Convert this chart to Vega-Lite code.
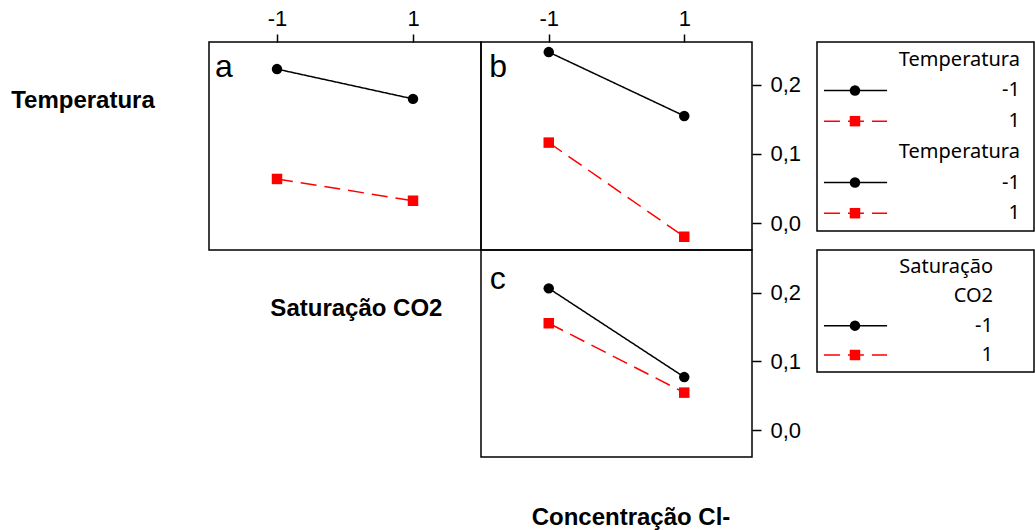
{
  "$schema": "https://vega.github.io/schema/vega-lite/v6.json",
  "padding": 0,
  "background": "white",
  "config": {
    "view": {"stroke": "black", "strokeWidth": 1.5},
    "font": "Liberation Sans",
    "axis": {"labelFont": "Liberation Sans", "labelColor": "black", "labelFontSize": 22, "tickColor": "black", "tickWidth": 1.5, "grid": false, "domain": false, "title": null}
  },
  "datasets": {
    "means": [
      {"panel": "a", "level": "-1", "setting": -1, "mean": 0.2228},
      {"panel": "a", "level": "-1", "setting": 1, "mean": 0.1797},
      {"panel": "a", "level": "1", "setting": -1, "mean": 0.0638},
      {"panel": "a", "level": "1", "setting": 1, "mean": 0.0323},
      {"panel": "b", "level": "-1", "setting": -1, "mean": 0.2474},
      {"panel": "b", "level": "-1", "setting": 1, "mean": 0.155},
      {"panel": "b", "level": "1", "setting": -1, "mean": 0.1164},
      {"panel": "b", "level": "1", "setting": 1, "mean": -0.0198},
      {"panel": "c", "level": "-1", "setting": -1, "mean": 0.2062},
      {"panel": "c", "level": "-1", "setting": 1, "mean": 0.0772},
      {"panel": "c", "level": "1", "setting": -1, "mean": 0.1555},
      {"panel": "c", "level": "1", "setting": 1, "mean": 0.0546}
    ],
    "legend1": [
      {"item": 1, "kind": "title", "text": "Temperatura"},
      {"item": 2, "kind": "entry", "level": "-1", "text": "-1"},
      {"item": 3, "kind": "entry", "level": "1", "text": "1"},
      {"item": 4, "kind": "title", "text": "Temperatura"},
      {"item": 5, "kind": "entry", "level": "-1", "text": "-1"},
      {"item": 6, "kind": "entry", "level": "1", "text": "1"}
    ],
    "legend2": [
      {"item": 1, "kind": "title", "text": "Saturação"},
      {"item": 2, "kind": "title", "text": "CO2"},
      {"item": 3, "kind": "entry", "level": "-1", "text": "-1"},
      {"item": 4, "kind": "entry", "level": "1", "text": "1"}
    ]
  },
  "bounds": "flush",
  "spacing": 0,
  "align": "each",
  "columns": 5,
  "concat": [
    {"width": 209, "height": 42, "view": {"stroke": null}, "data": {"values": []}, "mark": "text", "encoding": {"text": {"field": "t"}}},
    {"width": 272, "height": 42, "view": {"stroke": null}, "data": {"values": []}, "mark": "text", "encoding": {"text": {"field": "t"}}},
    {"width": 271, "height": 42, "view": {"stroke": null}, "data": {"values": []}, "mark": "text", "encoding": {"text": {"field": "t"}}},
    {"width": 65, "height": 42, "view": {"stroke": null}, "data": {"values": []}, "mark": "text", "encoding": {"text": {"field": "t"}}},
    {"width": 217, "height": 42, "view": {"stroke": null}, "data": {"values": []}, "mark": "text", "encoding": {"text": {"field": "t"}}},

    {
      "width": 209, "height": 208, "view": {"stroke": null},
      "data": {"values": [{"label": "Temperatura"}]},
      "mark": {"type": "text", "font": "Liberation Sans", "fontWeight": "bold", "fontSize": 24, "align": "center", "baseline": "alphabetic", "dx": -21.5, "dy": -38, "color": "black"},
      "encoding": {"text": {"field": "label"}}
    },
    {
      "width": 272, "height": 208,
      "layer": [
        {
          "data": {"name": "means"},
          "transform": [{"filter": "datum.panel === 'a'"}],
          "mark": {"type": "line", "strokeWidth": 1.5},
          "encoding": {
            "x": {"field": "setting", "type": "quantitative", "scale": {"domain": [-2, 2], "nice": false}, "axis": {"orient": "top", "values": [-1, 1], "tickSize": 8, "labelPadding": 4, "labelExpr": "datum.value < 0 ? '-1' : '1'"}},
            "y": {"field": "mean", "type": "quantitative", "scale": {"domain": [-0.039, 0.262], "nice": false, "zero": false}, "axis": null},
            "color": {"field": "level", "type": "nominal", "scale": {"domain": ["-1", "1"], "range": ["black", "red"]}, "legend": null},
            "strokeDash": {"field": "level", "type": "nominal", "scale": {"domain": ["-1", "1"], "range": [[1, 0], [16, 8]]}, "legend": null}
          }
        },
        {
          "data": {"name": "means"},
          "transform": [{"filter": "datum.panel === 'a'"}],
          "mark": {"type": "point", "filled": true, "size": 110, "opacity": 1},
          "encoding": {
            "x": {"field": "setting", "type": "quantitative"},
            "y": {"field": "mean", "type": "quantitative"},
            "color": {"field": "level", "type": "nominal", "legend": null},
            "shape": {"field": "level", "type": "nominal", "scale": {"domain": ["-1", "1"], "range": ["circle", "square"]}, "legend": null}
          }
        },
        {
          "data": {"values": [{"letter": "a"}]},
          "mark": {"type": "text", "font": "Liberation Sans", "fontSize": 32, "align": "left", "baseline": "alphabetic", "color": "black"},
          "encoding": {
            "x": {"datum": -1.91, "type": "quantitative"},
            "y": {"datum": 0.2116, "type": "quantitative"},
            "text": {"field": "letter"}
          }
        }
      ]
    },
    {
      "width": 271, "height": 208,
      "layer": [
        {
          "data": {"name": "means"},
          "transform": [{"filter": "datum.panel === 'b'"}],
          "mark": {"type": "line", "strokeWidth": 1.5},
          "encoding": {
            "x": {"field": "setting", "type": "quantitative", "scale": {"domain": [-2, 2], "nice": false}, "axis": {"orient": "top", "values": [-1, 1], "tickSize": 8, "labelPadding": 4, "labelExpr": "datum.value < 0 ? '-1' : '1'"}},
            "y": {"field": "mean", "type": "quantitative", "scale": {"domain": [-0.039, 0.262], "nice": false, "zero": false}, "axis": {"orient": "right", "values": [0, 0.1, 0.2], "tickSize": 9, "labelPadding": 9, "labelExpr": "replace(format(datum.value, '.1f'), '.', ',')"}},
            "color": {"field": "level", "type": "nominal", "scale": {"domain": ["-1", "1"], "range": ["black", "red"]}, "legend": null},
            "strokeDash": {"field": "level", "type": "nominal", "scale": {"domain": ["-1", "1"], "range": [[1, 0], [16, 8]]}, "legend": null}
          }
        },
        {
          "data": {"name": "means"},
          "transform": [{"filter": "datum.panel === 'b'"}],
          "mark": {"type": "point", "filled": true, "size": 110, "opacity": 1},
          "encoding": {
            "x": {"field": "setting", "type": "quantitative"},
            "y": {"field": "mean", "type": "quantitative"},
            "color": {"field": "level", "type": "nominal", "legend": null},
            "shape": {"field": "level", "type": "nominal", "scale": {"domain": ["-1", "1"], "range": ["circle", "square"]}, "legend": null}
          }
        },
        {
          "data": {"values": [{"letter": "b"}]},
          "mark": {"type": "text", "font": "Liberation Sans", "fontSize": 32, "align": "left", "baseline": "alphabetic", "color": "black"},
          "encoding": {
            "x": {"datum": -1.88, "type": "quantitative"},
            "y": {"datum": 0.2116, "type": "quantitative"},
            "text": {"field": "letter"}
          }
        }
      ]
    },
    {"width": 65, "height": 208, "view": {"stroke": null}, "data": {"values": []}, "mark": "text", "encoding": {"text": {"field": "t"}}},
    {
      "width": 217, "height": 189,
      "data": {"name": "legend1"},
      "encoding": {
        "y": {"field": "item", "type": "ordinal", "scale": {"type": "point", "padding": 0.58}, "axis": null}
      },
      "layer": [
        {
          "transform": [{"filter": "datum.kind === 'entry'"}],
          "mark": {"type": "rule", "strokeWidth": 1.5},
          "encoding": {
            "x": {"datum": 3.2, "type": "quantitative", "scale": {"domain": [0, 100]}, "axis": null},
            "x2": {"datum": 32.3},
            "color": {"field": "level", "type": "nominal", "scale": {"domain": ["-1", "1"], "range": ["black", "red"]}, "legend": null},
            "strokeDash": {"field": "level", "type": "nominal", "scale": {"domain": ["-1", "1"], "range": [[1, 0], [16, 8]]}, "legend": null}
          }
        },
        {
          "transform": [{"filter": "datum.kind === 'entry'"}],
          "mark": {"type": "point", "filled": true, "size": 110, "opacity": 1},
          "encoding": {
            "x": {"datum": 17.5, "type": "quantitative"},
            "color": {"field": "level", "type": "nominal", "legend": null},
            "shape": {"field": "level", "type": "nominal", "scale": {"domain": ["-1", "1"], "range": ["circle", "square"]}, "legend": null}
          }
        },
        {
          "mark": {"type": "text", "font": "Noto Sans", "fontSize": 20, "align": "right", "baseline": "middle", "color": "black"},
          "encoding": {
            "x": {"datum": 93.5, "type": "quantitative"},
            "text": {"field": "text"}
          }
        }
      ]
    },

    {"width": 209, "height": 207, "view": {"stroke": null}, "data": {"values": []}, "mark": "text", "encoding": {"text": {"field": "t"}}},
    {
      "width": 272, "height": 207, "view": {"stroke": null},
      "data": {"values": [{"label": "Saturação CO2"}]},
      "mark": {"type": "text", "font": "Liberation Sans", "fontWeight": "bold", "fontSize": 24, "align": "center", "baseline": "alphabetic", "dx": 11.4, "dy": -37.5, "color": "black"},
      "encoding": {"text": {"field": "label"}}
    },
    {
      "width": 271, "height": 207,
      "layer": [
        {
          "data": {"name": "means"},
          "transform": [{"filter": "datum.panel === 'c'"}],
          "mark": {"type": "line", "strokeWidth": 1.5},
          "encoding": {
            "x": {"field": "setting", "type": "quantitative", "scale": {"domain": [-2, 2], "nice": false}, "axis": null},
            "y": {"field": "mean", "type": "quantitative", "scale": {"domain": [-0.039, 0.262], "nice": false, "zero": false}, "axis": {"orient": "right", "values": [0, 0.1, 0.2], "tickSize": 9, "labelPadding": 9, "labelExpr": "replace(format(datum.value, '.1f'), '.', ',')"}},
            "color": {"field": "level", "type": "nominal", "scale": {"domain": ["-1", "1"], "range": ["black", "red"]}, "legend": null},
            "strokeDash": {"field": "level", "type": "nominal", "scale": {"domain": ["-1", "1"], "range": [[1, 0], [16, 8]]}, "legend": null}
          }
        },
        {
          "data": {"name": "means"},
          "transform": [{"filter": "datum.panel === 'c'"}],
          "mark": {"type": "point", "filled": true, "size": 110, "opacity": 1},
          "encoding": {
            "x": {"field": "setting", "type": "quantitative"},
            "y": {"field": "mean", "type": "quantitative"},
            "color": {"field": "level", "type": "nominal", "legend": null},
            "shape": {"field": "level", "type": "nominal", "scale": {"domain": ["-1", "1"], "range": ["circle", "square"]}, "legend": null}
          }
        },
        {
          "data": {"values": [{"letter": "c"}]},
          "mark": {"type": "text", "font": "Liberation Sans", "fontSize": 32, "align": "left", "baseline": "alphabetic", "color": "black"},
          "encoding": {
            "x": {"datum": -1.87, "type": "quantitative"},
            "y": {"datum": 0.2058, "type": "quantitative"},
            "text": {"field": "letter"}
          }
        }
      ]
    },
    {"width": 65, "height": 207, "view": {"stroke": null}, "data": {"values": []}, "mark": "text", "encoding": {"text": {"field": "t"}}},
    {
      "width": 217, "height": 122,
      "data": {"name": "legend2"},
      "encoding": {
        "y": {"field": "item", "type": "ordinal", "scale": {"type": "point", "padding": 0.58}, "axis": null}
      },
      "layer": [
        {
          "transform": [{"filter": "datum.kind === 'entry'"}],
          "mark": {"type": "rule", "strokeWidth": 1.5},
          "encoding": {
            "x": {"datum": 3.2, "type": "quantitative", "scale": {"domain": [0, 100]}, "axis": null},
            "x2": {"datum": 32.3},
            "color": {"field": "level", "type": "nominal", "scale": {"domain": ["-1", "1"], "range": ["black", "red"]}, "legend": null},
            "strokeDash": {"field": "level", "type": "nominal", "scale": {"domain": ["-1", "1"], "range": [[1, 0], [16, 8]]}, "legend": null}
          }
        },
        {
          "transform": [{"filter": "datum.kind === 'entry'"}],
          "mark": {"type": "point", "filled": true, "size": 110, "opacity": 1},
          "encoding": {
            "x": {"datum": 17.5, "type": "quantitative"},
            "color": {"field": "level", "type": "nominal", "legend": null},
            "shape": {"field": "level", "type": "nominal", "scale": {"domain": ["-1", "1"], "range": ["circle", "square"]}, "legend": null}
          }
        },
        {
          "mark": {"type": "text", "font": "Noto Sans", "fontSize": 20, "align": "right", "baseline": "middle", "color": "black"},
          "encoding": {
            "x": {"datum": 81.1, "type": "quantitative"},
            "text": {"field": "text"}
          }
        }
      ]
    },

    {"width": 209, "height": 73, "view": {"stroke": null}, "data": {"values": []}, "mark": "text", "encoding": {"text": {"field": "t"}}},
    {"width": 272, "height": 73, "view": {"stroke": null}, "data": {"values": []}, "mark": "text", "encoding": {"text": {"field": "t"}}},
    {
      "width": 271, "height": 73, "view": {"stroke": null},
      "data": {"values": [{"label": "Concentração Cl-"}]},
      "mark": {"type": "text", "font": "Liberation Sans", "fontWeight": "bold", "fontSize": 24, "align": "center", "baseline": "alphabetic", "dx": 14.5, "dy": 31.5, "color": "black"},
      "encoding": {"text": {"field": "label"}}
    },
    {"width": 65, "height": 73, "view": {"stroke": null}, "data": {"values": []}, "mark": "text", "encoding": {"text": {"field": "t"}}},
    {"width": 217, "height": 73, "view": {"stroke": null}, "data": {"values": []}, "mark": "text", "encoding": {"text": {"field": "t"}}}
  ]
}
